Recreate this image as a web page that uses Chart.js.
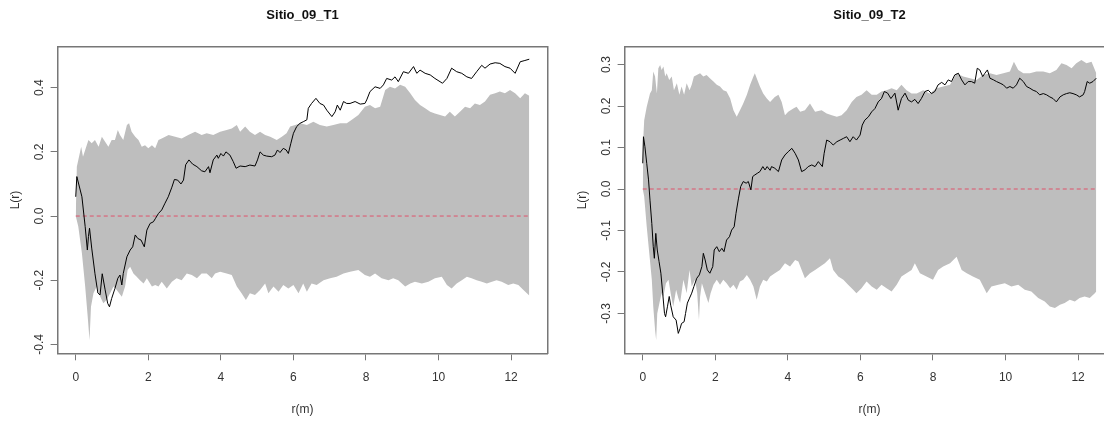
<!DOCTYPE html>
<html lang="es">
<head>
<meta charset="UTF-8">
<title>Sitio_09</title>
<script src="https://cdn.jsdelivr.net/npm/chart.js"></script>
<style>
  body { margin: 0; background: #fff; overflow: hidden; }
  #wrap { position: relative; width: 1104px; height: 421px; overflow: hidden; }
  canvas { position: absolute; top: 0; }
  #c1 { left: 0; }
  #c2 { left: 567px; }
</style>
</head>
<body>
<div id="wrap">
  <canvas id="c1" width="567" height="421"></canvas>
  <canvas id="c2" width="567" height="421"></canvas>
</div>
<script>
// [r, L(r)] pairs
const t1Obs = [[0,0.06],[0.03,0.123],[0.17,0.06],[0.26,-0.033],[0.32,-0.106],[0.35,-0.064],[0.38,-0.038],[0.44,-0.10],[0.53,-0.18],[0.61,-0.24],[0.67,-0.246],[0.73,-0.18],[0.81,-0.23],[0.88,-0.272],[0.93,-0.283],[0.99,-0.257],[1.08,-0.226],[1.16,-0.194],[1.22,-0.184],[1.27,-0.215],[1.31,-0.179],[1.41,-0.127],[1.5,-0.106],[1.57,-0.096],[1.64,-0.059],[1.71,-0.07],[1.8,-0.075],[1.89,-0.096],[1.96,-0.044],[2.05,-0.023],[2.14,-0.018],[2.2,-0.007],[2.28,0.008],[2.37,0.019],[2.46,0.04],[2.55,0.06],[2.65,0.09],[2.72,0.114],[2.81,0.112],[2.9,0.10],[2.97,0.112],[3.03,0.16],[3.12,0.175],[3.22,0.162],[3.34,0.154],[3.47,0.141],[3.56,0.138],[3.66,0.154],[3.7,0.135],[3.79,0.175],[3.89,0.19],[3.93,0.18],[4.0,0.195],[4.07,0.187],[4.14,0.2],[4.25,0.19],[4.34,0.17],[4.42,0.149],[4.53,0.156],[4.67,0.154],[4.8,0.159],[4.94,0.156],[5.01,0.175],[5.08,0.2],[5.17,0.19],[5.26,0.187],[5.4,0.185],[5.49,0.19],[5.56,0.206],[5.63,0.198],[5.72,0.211],[5.8,0.206],[5.86,0.195],[5.93,0.227],[6.0,0.258],[6.09,0.279],[6.18,0.289],[6.27,0.294],[6.37,0.3],[6.41,0.336],[6.5,0.351],[6.62,0.367],[6.73,0.351],[6.83,0.346],[6.92,0.33],[7.06,0.31],[7.15,0.325],[7.21,0.346],[7.29,0.33],[7.38,0.357],[7.47,0.351],[7.56,0.351],[7.7,0.357],[7.84,0.349],[7.97,0.351],[8.02,0.362],[8.11,0.388],[8.25,0.403],[8.39,0.398],[8.48,0.409],[8.57,0.429],[8.71,0.424],[8.8,0.434],[8.89,0.419],[9.03,0.45],[9.17,0.445],[9.31,0.466],[9.4,0.445],[9.49,0.455],[9.63,0.445],[9.77,0.44],[9.9,0.429],[10.04,0.419],[10.11,0.414],[10.23,0.429],[10.36,0.461],[10.5,0.45],[10.64,0.445],[10.78,0.434],[10.91,0.429],[11.05,0.45],[11.19,0.47],[11.28,0.461],[11.42,0.474],[11.56,0.478],[11.69,0.476],[11.83,0.466],[11.97,0.461],[12.11,0.445],[12.25,0.481],[12.38,0.485],[12.5,0.489]];
const t1Hi = [[0,0],[0.03,0.154],[0.15,0.216],[0.2,0.185],[0.26,0.206],[0.35,0.237],[0.44,0.227],[0.53,0.237],[0.63,0.216],[0.72,0.247],[0.81,0.232],[0.9,0.216],[0.99,0.237],[1.08,0.237],[1.16,0.268],[1.22,0.253],[1.31,0.237],[1.41,0.284],[1.47,0.289],[1.54,0.263],[1.64,0.247],[1.73,0.237],[1.82,0.216],[1.91,0.221],[2.0,0.211],[2.1,0.221],[2.19,0.211],[2.28,0.237],[2.37,0.242],[2.56,0.253],[2.74,0.247],[2.92,0.242],[3.1,0.253],[3.29,0.263],[3.47,0.253],[3.61,0.258],[3.79,0.253],[3.98,0.263],[4.16,0.268],[4.3,0.273],[4.44,0.284],[4.53,0.263],[4.67,0.279],[4.8,0.263],[4.94,0.253],[5.08,0.263],[5.22,0.253],[5.36,0.247],[5.54,0.237],[5.68,0.247],[5.81,0.258],[5.91,0.279],[6.05,0.284],[6.18,0.289],[6.37,0.284],[6.55,0.294],[6.73,0.284],[6.92,0.279],[7.1,0.284],[7.29,0.289],[7.47,0.289],[7.61,0.3],[7.79,0.315],[7.97,0.341],[8.11,0.346],[8.25,0.336],[8.39,0.341],[8.53,0.393],[8.66,0.403],[8.8,0.398],[8.94,0.409],[9.08,0.403],[9.22,0.383],[9.35,0.362],[9.49,0.346],[9.63,0.336],[9.77,0.325],[9.9,0.32],[10.04,0.315],[10.18,0.31],[10.31,0.325],[10.45,0.31],[10.59,0.325],[10.73,0.341],[10.87,0.336],[11.0,0.351],[11.14,0.346],[11.28,0.357],[11.42,0.378],[11.56,0.383],[11.69,0.388],[11.83,0.383],[11.97,0.393],[12.11,0.383],[12.25,0.367],[12.38,0.383],[12.5,0.375]];
const t1Lo = [[0,0],[0.07,-0.033],[0.17,-0.116],[0.26,-0.22],[0.33,-0.314],[0.38,-0.387],[0.42,-0.283],[0.49,-0.24],[0.58,-0.22],[0.67,-0.25],[0.76,-0.272],[0.85,-0.262],[0.95,-0.24],[1.04,-0.22],[1.13,-0.231],[1.27,-0.252],[1.36,-0.22],[1.43,-0.168],[1.5,-0.158],[1.59,-0.179],[1.68,-0.189],[1.77,-0.2],[1.87,-0.21],[1.96,-0.194],[2.1,-0.22],[2.19,-0.215],[2.28,-0.22],[2.37,-0.205],[2.51,-0.226],[2.65,-0.205],[2.78,-0.194],[2.92,-0.2],[3.06,-0.179],[3.2,-0.184],[3.34,-0.194],[3.47,-0.179],[3.61,-0.179],[3.75,-0.194],[3.84,-0.179],[3.98,-0.174],[4.16,-0.179],[4.3,-0.184],[4.44,-0.22],[4.57,-0.241],[4.69,-0.262],[4.8,-0.241],[4.94,-0.246],[5.08,-0.231],[5.22,-0.21],[5.31,-0.241],[5.45,-0.22],[5.59,-0.236],[5.72,-0.215],[5.86,-0.226],[6.0,-0.215],[6.14,-0.241],[6.27,-0.21],[6.37,-0.236],[6.5,-0.21],[6.64,-0.215],[6.83,-0.2],[7.01,-0.194],[7.19,-0.189],[7.38,-0.179],[7.56,-0.174],[7.79,-0.168],[7.97,-0.184],[8.11,-0.189],[8.25,-0.179],[8.43,-0.194],[8.62,-0.2],[8.75,-0.194],[8.89,-0.2],[9.08,-0.22],[9.22,-0.21],[9.35,-0.205],[9.54,-0.21],[9.72,-0.205],[9.9,-0.194],[10.09,-0.189],[10.23,-0.215],[10.36,-0.226],[10.5,-0.21],[10.64,-0.2],[10.78,-0.189],[10.91,-0.194],[11.05,-0.2],[11.19,-0.205],[11.33,-0.21],[11.47,-0.205],[11.6,-0.2],[11.74,-0.205],[11.92,-0.215],[12.06,-0.21],[12.2,-0.215],[12.34,-0.231],[12.5,-0.248]];

const t2Obs = [[0,0.062],[0.02,0.126],[0.06,0.102],[0.11,0.062],[0.16,0.022],[0.2,-0.027],[0.25,-0.083],[0.29,-0.139],[0.32,-0.167],[0.36,-0.107],[0.4,-0.147],[0.45,-0.175],[0.5,-0.203],[0.55,-0.251],[0.6,-0.3],[0.63,-0.308],[0.68,-0.284],[0.73,-0.259],[0.77,-0.28],[0.84,-0.308],[0.92,-0.316],[0.98,-0.348],[1.03,-0.336],[1.07,-0.324],[1.14,-0.32],[1.18,-0.3],[1.23,-0.275],[1.29,-0.263],[1.35,-0.251],[1.41,-0.235],[1.49,-0.215],[1.56,-0.207],[1.63,-0.187],[1.67,-0.155],[1.72,-0.171],[1.78,-0.195],[1.85,-0.203],[1.93,-0.187],[1.97,-0.147],[2.04,-0.139],[2.11,-0.151],[2.18,-0.143],[2.24,-0.151],[2.31,-0.123],[2.39,-0.115],[2.45,-0.099],[2.52,-0.091],[2.57,-0.059],[2.64,-0.022],[2.7,0.006],[2.77,0.018],[2.85,0.014],[2.91,0.018],[2.98,-0.002],[3.03,0.03],[3.09,0.034],[3.16,0.038],[3.23,0.042],[3.31,0.054],[3.37,0.046],[3.43,0.054],[3.51,0.045],[3.55,0.054],[3.64,0.05],[3.74,0.042],[3.83,0.07],[3.92,0.082],[4.01,0.09],[4.11,0.098],[4.2,0.086],[4.29,0.07],[4.38,0.042],[4.47,0.046],[4.56,0.054],[4.66,0.058],[4.75,0.054],[4.84,0.066],[4.95,0.054],[5.0,0.086],[5.07,0.118],[5.16,0.114],[5.25,0.106],[5.35,0.114],[5.44,0.118],[5.53,0.122],[5.62,0.126],[5.71,0.114],[5.8,0.126],[5.89,0.118],[5.99,0.13],[6.05,0.154],[6.12,0.166],[6.22,0.174],[6.31,0.186],[6.4,0.194],[6.49,0.21],[6.58,0.218],[6.66,0.235],[6.75,0.231],[6.84,0.218],[6.95,0.231],[7.04,0.19],[7.13,0.218],[7.23,0.231],[7.32,0.214],[7.41,0.21],[7.5,0.216],[7.59,0.206],[7.68,0.218],[7.78,0.235],[7.87,0.238],[7.96,0.23],[8.05,0.235],[8.14,0.251],[8.24,0.257],[8.33,0.251],[8.42,0.263],[8.51,0.259],[8.6,0.275],[8.7,0.279],[8.79,0.263],[8.88,0.251],[8.97,0.259],[9.06,0.259],[9.15,0.255],[9.22,0.291],[9.29,0.287],[9.37,0.271],[9.43,0.279],[9.5,0.287],[9.57,0.267],[9.67,0.263],[9.75,0.259],[9.85,0.255],[9.94,0.251],[10.03,0.243],[10.12,0.247],[10.21,0.243],[10.3,0.251],[10.39,0.267],[10.49,0.259],[10.58,0.247],[10.67,0.243],[10.76,0.238],[10.85,0.235],[10.94,0.227],[11.04,0.23],[11.13,0.227],[11.22,0.222],[11.31,0.218],[11.4,0.21],[11.5,0.222],[11.59,0.227],[11.68,0.23],[11.77,0.232],[11.86,0.23],[11.95,0.227],[12.04,0.222],[12.14,0.227],[12.18,0.235],[12.25,0.259],[12.32,0.255],[12.41,0.259],[12.5,0.267]];
const t2Hi = [[0,0],[0.02,0.13],[0.04,0.166],[0.11,0.198],[0.2,0.23],[0.25,0.238],[0.29,0.283],[0.34,0.271],[0.39,0.23],[0.43,0.291],[0.48,0.299],[0.52,0.287],[0.57,0.295],[0.62,0.271],[0.66,0.279],[0.73,0.263],[0.8,0.271],[0.86,0.238],[0.94,0.255],[1.01,0.227],[1.07,0.247],[1.14,0.227],[1.21,0.255],[1.29,0.238],[1.35,0.251],[1.41,0.271],[1.49,0.275],[1.58,0.279],[1.67,0.271],[1.76,0.275],[1.85,0.267],[1.95,0.259],[2.04,0.251],[2.13,0.247],[2.22,0.238],[2.31,0.235],[2.41,0.218],[2.5,0.19],[2.59,0.174],[2.68,0.19],[2.77,0.206],[2.87,0.227],[2.96,0.251],[3.05,0.271],[3.09,0.279],[3.16,0.263],[3.23,0.247],[3.32,0.23],[3.42,0.218],[3.51,0.21],[3.64,0.222],[3.74,0.227],[3.83,0.21],[3.92,0.178],[4.01,0.186],[4.15,0.194],[4.24,0.198],[4.34,0.186],[4.47,0.19],[4.61,0.206],[4.75,0.186],[4.93,0.19],[5.07,0.182],[5.21,0.178],[5.35,0.174],[5.48,0.178],[5.62,0.19],[5.76,0.21],[5.89,0.222],[6.03,0.227],[6.17,0.238],[6.31,0.227],[6.45,0.227],[6.58,0.235],[6.72,0.238],[6.86,0.243],[7.0,0.238],[7.13,0.251],[7.27,0.238],[7.41,0.23],[7.55,0.23],[7.73,0.238],[7.91,0.23],[8.1,0.243],[8.28,0.247],[8.47,0.251],[8.65,0.279],[8.83,0.271],[9.02,0.267],[9.2,0.263],[9.38,0.275],[9.57,0.279],[9.75,0.275],[9.94,0.279],[10.12,0.283],[10.23,0.307],[10.35,0.287],[10.49,0.279],[10.67,0.279],[10.85,0.283],[11.04,0.283],[11.22,0.279],[11.4,0.287],[11.54,0.303],[11.68,0.299],[11.82,0.291],[11.95,0.303],[12.09,0.311],[12.23,0.303],[12.37,0.307],[12.5,0.279]];
const t2Lo = [[0,0],[0.04,-0.018],[0.11,-0.091],[0.18,-0.155],[0.25,-0.219],[0.29,-0.284],[0.34,-0.34],[0.37,-0.364],[0.4,-0.3],[0.46,-0.275],[0.52,-0.251],[0.57,-0.259],[0.64,-0.227],[0.71,-0.219],[0.77,-0.251],[0.84,-0.284],[0.92,-0.243],[0.98,-0.263],[1.03,-0.275],[1.12,-0.219],[1.21,-0.251],[1.29,-0.195],[1.35,-0.235],[1.44,-0.219],[1.5,-0.25],[1.55,-0.316],[1.58,-0.26],[1.63,-0.227],[1.72,-0.251],[1.81,-0.275],[1.87,-0.251],[1.95,-0.231],[2.04,-0.219],[2.13,-0.231],[2.22,-0.219],[2.31,-0.227],[2.41,-0.239],[2.5,-0.231],[2.59,-0.243],[2.68,-0.223],[2.77,-0.219],[2.87,-0.207],[2.96,-0.219],[3.05,-0.235],[3.14,-0.267],[3.23,-0.235],[3.32,-0.219],[3.42,-0.223],[3.51,-0.211],[3.64,-0.203],[3.78,-0.195],[3.92,-0.179],[4.06,-0.187],[4.2,-0.171],[4.29,-0.175],[4.38,-0.195],[4.47,-0.215],[4.61,-0.203],[4.75,-0.195],[4.89,-0.187],[5.02,-0.179],[5.16,-0.167],[5.25,-0.195],[5.39,-0.211],[5.53,-0.219],[5.66,-0.231],[5.8,-0.243],[5.89,-0.251],[6.03,-0.239],[6.17,-0.223],[6.31,-0.235],[6.45,-0.243],[6.58,-0.231],[6.72,-0.239],[6.86,-0.247],[7.0,-0.231],[7.13,-0.211],[7.27,-0.203],[7.41,-0.195],[7.5,-0.179],[7.64,-0.203],[7.82,-0.211],[8.0,-0.219],[8.14,-0.195],[8.28,-0.187],[8.47,-0.179],[8.65,-0.163],[8.79,-0.195],[8.93,-0.203],[9.1,-0.211],[9.29,-0.219],[9.48,-0.251],[9.61,-0.235],[9.8,-0.231],[9.98,-0.227],[10.16,-0.235],[10.35,-0.231],[10.53,-0.243],[10.71,-0.247],[10.9,-0.263],[11.08,-0.271],[11.22,-0.283],[11.36,-0.287],[11.5,-0.279],[11.63,-0.275],[11.77,-0.267],[11.91,-0.271],[12.04,-0.263],[12.18,-0.259],[12.32,-0.263],[12.46,-0.251],[12.5,-0.247]];

// theoretical L(r) under CSR
const theo = [[0, 0], [12.5, 0]];

const xTicks = [0, 2, 4, 6, 8, 10, 12];
const t1YTicks = [-0.4, -0.2, 0, 0.2, 0.4];
const t2YTicks = [-0.3, -0.2, -0.1, 0, 0.1, 0.2, 0.3];

const FONT = '"Liberation Sans", Arial, sans-serif';
const TXT = '#333';
const FRAME = '#777';

function pts(a) {
    return a.map(p => ({x: p[0], y: p[1]}));
}

// fixed margins so the plot box sits like R's par(mar)
const fixW = w => s => { s.width = w; };
const fixH = h => s => { s.height = h; };
const setTicks = list => s => { s.ticks = list.map(v => ({value: v})); };

function panel(id, title, obs, hi, lo, yTicks, yMin, yMax) {
    const frame = {display: true, color: FRAME, width: 1.5, z: 1};
    new Chart(document.getElementById(id), {
        type: 'line',
        data: {
            datasets: [
                {data: pts(obs), borderColor: '#000', borderWidth: 1},
                {data: pts(theo), borderColor: '#DF536B', borderWidth: 1, borderDash: [4, 3]},
                {data: pts(hi), borderWidth: 0, borderColor: 'rgba(0,0,0,0)', backgroundColor: '#BEBEBE', fill: '+1'},
                {data: pts(lo), borderWidth: 0, borderColor: 'rgba(0,0,0,0)', fill: false}
            ]
        },
        options: {
            responsive: false,
            animation: false,
            layout: {padding: 0},
            elements: {point: {radius: 0}, line: {tension: 0}},
            plugins: {legend: {display: false}, tooltip: {enabled: false}, title: {display: false}},
            scales: {
                x: {
                    type: 'linear', position: 'bottom', min: -0.5, max: 13,
                    afterFit: fixH(67.7),
                    afterBuildTicks: setTicks(xTicks),
                    grid: {drawOnChartArea: false, drawTicks: true, tickLength: 7, color: FRAME, lineWidth: 1},
                    border: frame,
                    ticks: {font: {family: FONT, size: 12}, color: TXT, padding: 10.2, maxRotation: 0,
                            callback: v => String(v)},
                    title: {display: true, text: 'r(m)', font: {family: FONT, size: 12}, color: TXT, padding: 3.8}
                },
                x2: {
                    type: 'linear', position: 'top', min: -0.5, max: 13,
                    afterFit: fixH(46.7),
                    grid: {display: false},
                    border: frame,
                    ticks: {display: false},
                    title: {display: true, text: title, font: {family: FONT, size: 13, weight: 'bold'}, color: '#111', padding: 7.2}
                },
                y: {
                    type: 'linear', position: 'left', min: yMin, max: yMax,
                    afterFit: fixW(57.6),
                    afterBuildTicks: setTicks(yTicks),
                    grid: {drawOnChartArea: false, drawTicks: true, tickLength: 7, color: FRAME, lineWidth: 1},
                    border: frame,
                    ticks: {font: {family: FONT, size: 12}, color: TXT, padding: 0.3,
                            minRotation: 90, maxRotation: 90, crossAlign: 'center',
                            callback: v => v.toFixed(1)},
                    title: {display: true, text: 'L(r)', font: {family: FONT, size: 12}, color: TXT, padding: 8.6}
                },
                y2: {
                    type: 'linear', position: 'right', min: yMin, max: yMax,
                    afterFit: fixW(19.6),
                    grid: {display: false},
                    border: frame,
                    ticks: {display: false}
                }
            }
        }
    });
}

panel('c1', 'Sitio_09_T1', t1Obs, t1Hi, t1Lo, t1YTicks, -0.428, 0.528);
panel('c2', 'Sitio_09_T2', t2Obs, t2Hi, t2Lo, t2YTicks, -0.396, 0.343);
</script>
</body>
</html>
